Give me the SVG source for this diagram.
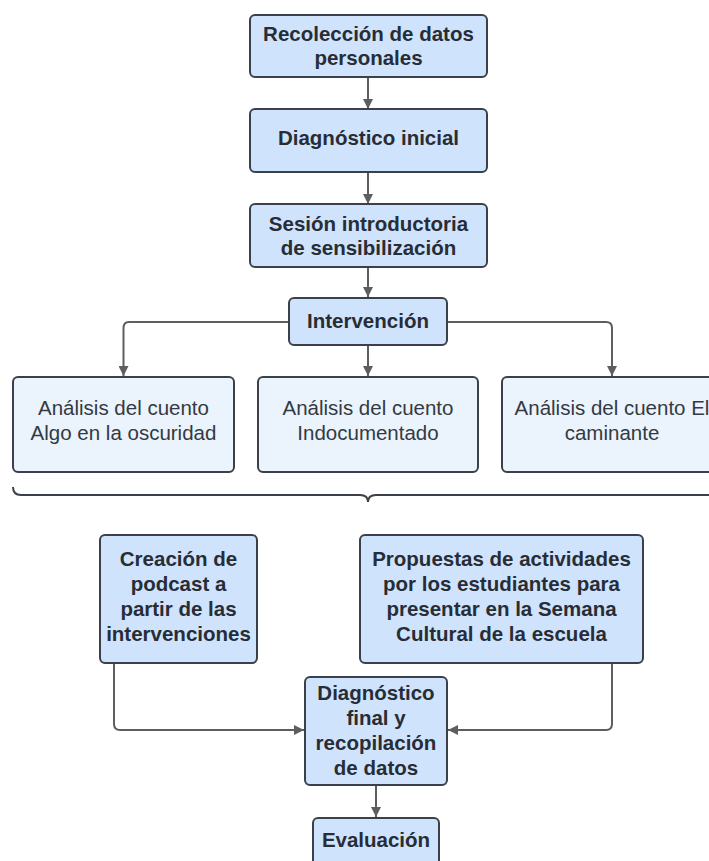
<svg xmlns="http://www.w3.org/2000/svg" width="709" height="861" viewBox="0 0 709 861">
<style>
.main{fill:#cfe3fd;stroke:#3a414a;stroke-width:2}
.sub{fill:#ebf3fd;stroke:#3a414a;stroke-width:2}
.tb{font-family:"Liberation Sans",Arial,sans-serif;font-weight:bold;font-size:20.5px;fill:#282d35;text-anchor:middle}
.tr{font-family:"Liberation Sans",Arial,sans-serif;font-size:20.5px;fill:#333a42;text-anchor:middle}
.c{fill:none;stroke:#5e5e5e;stroke-width:2}
</style>
<defs>
<marker id="ah" viewBox="0 0 10 10" refX="10" refY="5" markerWidth="10" markerHeight="10" markerUnits="userSpaceOnUse" orient="auto">
<path d="M0,0 L10,5 L0,10 z" fill="#5e5e5e"/>
</marker>
</defs>
<rect width="709" height="861" fill="#ffffff"/>
<g id="connectors">
<path class="c" d="M368,77 V109" marker-end="url(#ah)"/>
<path class="c" d="M368,172 V204" marker-end="url(#ah)"/>
<path class="c" d="M368,267 V297" marker-end="url(#ah)"/>
<path class="c" d="M368,345 V376" marker-end="url(#ah)"/>
<path class="c" d="M289,322 H129 Q123.5,322 123.5,328 V376" marker-end="url(#ah)"/>
<path class="c" d="M447,322 H606 Q612,322 612,328 V376" marker-end="url(#ah)"/>
<path class="c" d="M114,663 V724 Q114,730 120,730 H304" marker-end="url(#ah)"/>
<path class="c" d="M612,663 V724 Q612,730 606,730 H448" marker-end="url(#ah)"/>
<path class="c" d="M376,785 V817" marker-end="url(#ah)"/>
<path fill="none" stroke="#3a414a" stroke-width="2" d="M13,487 Q13,495 21,495 H360 Q368,495 368,502 Q368,495 376,495 H712"/>
</g>
<g id="n1"><rect class="main" x="250" y="15" width="237" height="62" rx="5"/>
<text class="tb" x="368.5" y="41">Recolección de datos</text><text class="tb" x="368.5" y="65">personales</text></g>
<g id="n2"><rect class="main" x="250" y="109" width="237" height="63" rx="5"/>
<text class="tb" x="368.5" y="145">Diagnóstico inicial</text></g>
<g id="n3"><rect class="main" x="250" y="204" width="237" height="63" rx="5"/>
<text class="tb" x="368.5" y="231">Sesión introductoria</text><text class="tb" x="368.5" y="255">de sensibilización</text></g>
<g id="n4"><rect class="main" x="289" y="298" width="158" height="47" rx="5"/>
<text class="tb" x="368" y="328">Intervención</text></g>
<g id="n5"><rect class="sub" x="13" y="377" width="221" height="95" rx="5"/>
<text class="tr" x="123.5" y="415">Análisis del cuento</text><text class="tr" x="123.5" y="440">Algo en la oscuridad</text></g>
<g id="n6"><rect class="sub" x="258" y="377" width="220" height="95" rx="5"/>
<text class="tr" x="368" y="415">Análisis del cuento</text><text class="tr" x="368" y="440">Indocumentado</text></g>
<g id="n7"><rect class="sub" x="502" y="377" width="230" height="95" rx="5"/>
<text class="tr" x="612" y="415">Análisis del cuento El</text><text class="tr" x="612" y="440">caminante</text></g>
<g id="n8"><rect class="main" x="100" y="535" width="157" height="128" rx="5"/>
<text class="tb" x="178.5" y="566">Creación de</text><text class="tb" x="178.5" y="591">podcast a</text><text class="tb" x="178.5" y="616">partir de las</text><text class="tb" x="178.5" y="641">intervenciones</text></g>
<g id="n9"><rect class="main" x="360" y="535" width="283" height="128" rx="5"/>
<text class="tb" x="501.5" y="566">Propuestas de actividades</text><text class="tb" x="501.5" y="591">por los estudiantes para</text><text class="tb" x="501.5" y="616">presentar en la Semana</text><text class="tb" x="501.5" y="641">Cultural de la escuela</text></g>
<g id="n10"><rect class="main" x="305" y="677" width="142" height="108" rx="5"/>
<text class="tb" x="376" y="700">Diagnóstico</text><text class="tb" x="376" y="725">final y</text><text class="tb" x="376" y="750">recopilación</text><text class="tb" x="376" y="775">de datos</text></g>
<g id="n11"><rect class="main" x="313" y="818" width="126" height="60" rx="5"/>
<text class="tb" x="376" y="847">Evaluación</text></g>
</svg>
